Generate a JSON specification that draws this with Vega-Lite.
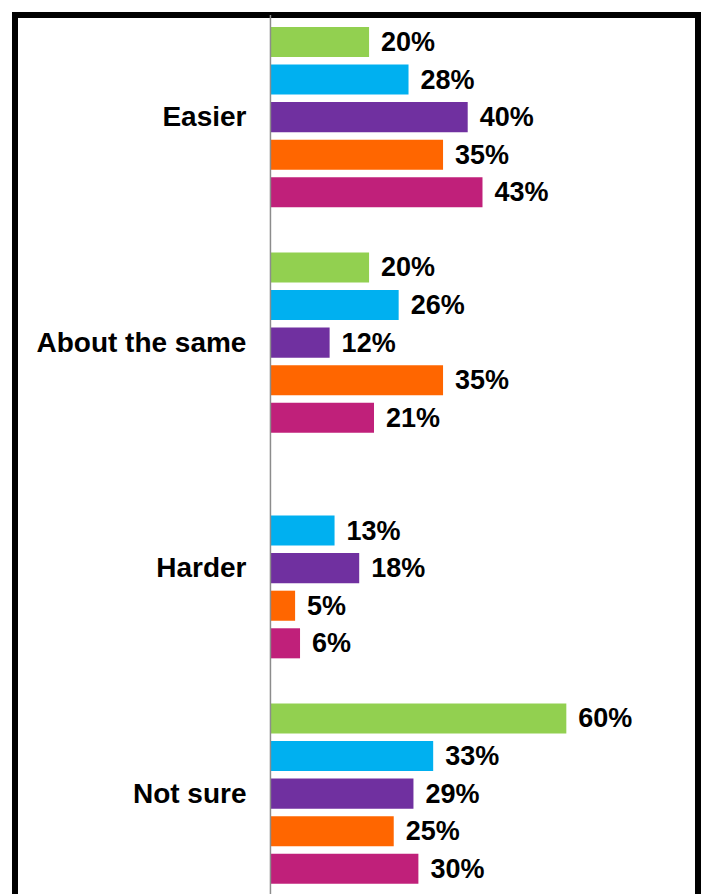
{
  "$schema": "https://vega.github.io/schema/vega-lite/v6.json",
  "width": 683,
  "height": 887.6,
  "autosize": {"type": "none"},
  "padding": {"left": 15, "top": 15, "right": 9, "bottom": 0},
  "background": "white",
  "config": {
    "view": {"stroke": "black", "strokeWidth": 6},
    "font": "Liberation Sans"
  },
  "data": {
    "values": [
      {"group": "Easier", "series": "Series 1", "value": 0.20},
      {"group": "Easier", "series": "Series 2", "value": 0.28},
      {"group": "Easier", "series": "Series 3", "value": 0.40},
      {"group": "Easier", "series": "Series 4", "value": 0.35},
      {"group": "Easier", "series": "Series 5", "value": 0.43},
      {"group": "About the same", "series": "Series 1", "value": 0.20},
      {"group": "About the same", "series": "Series 2", "value": 0.26},
      {"group": "About the same", "series": "Series 3", "value": 0.12},
      {"group": "About the same", "series": "Series 4", "value": 0.35},
      {"group": "About the same", "series": "Series 5", "value": 0.21},
      {"group": "Harder", "series": "Series 2", "value": 0.13},
      {"group": "Harder", "series": "Series 3", "value": 0.18},
      {"group": "Harder", "series": "Series 4", "value": 0.05},
      {"group": "Harder", "series": "Series 5", "value": 0.06},
      {"group": "Not sure", "series": "Series 1", "value": 0.60},
      {"group": "Not sure", "series": "Series 2", "value": 0.33},
      {"group": "Not sure", "series": "Series 3", "value": 0.29},
      {"group": "Not sure", "series": "Series 4", "value": 0.25},
      {"group": "Not sure", "series": "Series 5", "value": 0.30}
    ]
  },
  "layer": [
    {
      "mark": {"type": "bar"},
      "encoding": {
        "y": {
          "field": "group", "type": "nominal",
          "axis": null,
          "scale": {"domain": ["Easier", "About the same", "Harder", "Not sure"], "paddingInner": 0.1667, "paddingOuter": 0.0514, "align": 0.353}
        },
        "yOffset": {
          "field": "series", "type": "nominal",
          "scale": {"domain": ["Series 1", "Series 2", "Series 3", "Series 4", "Series 5"], "paddingInner": 0.2, "paddingOuter": 0.1}
        },
        "x": {
          "field": "value", "type": "quantitative", "axis": null,
          "scale": {"domain": [-0.518, 0.867], "nice": false, "zero": false}
        },
        "x2": {"datum": 0},
        "color": {
          "field": "series", "type": "nominal", "legend": null,
          "scale": {
            "domain": ["Series 1", "Series 2", "Series 3", "Series 4", "Series 5"],
            "range": ["#92D050", "#00B0F0", "#7030A0", "#FF6600", "#C0207A"]
          }
        }
      }
    },
    {
      "mark": {"type": "text", "align": "left", "baseline": "middle", "dx": 12, "dy": 1, "fontSize": 27, "fontWeight": "bold", "color": "black"},
      "encoding": {
        "y": {"field": "group", "type": "nominal"},
        "yOffset": {"field": "series", "type": "nominal"},
        "x": {"field": "value", "type": "quantitative"},
        "text": {"field": "value", "type": "quantitative", "format": ".0%"}
      }
    },
    {
      "data": {"values": [{"group": "Easier"}, {"group": "About the same"}, {"group": "Harder"}, {"group": "Not sure"}]},
      "mark": {"type": "text", "align": "right", "baseline": "middle", "dx": -24, "dy": 1, "fontSize": 28, "fontWeight": "bold", "color": "black"},
      "encoding": {
        "y": {"field": "group", "type": "nominal"},
        "x": {"datum": 0, "type": "quantitative"},
        "text": {"field": "group", "type": "nominal"}
      }
    },
    {
      "data": {"values": [{"group": "Easier"}]},
      "mark": {"type": "rule", "color": "#8c8c8c", "strokeWidth": 1.5},
      "encoding": {
        "x": {"datum": 0, "type": "quantitative"}
      }
    }
  ]
}
